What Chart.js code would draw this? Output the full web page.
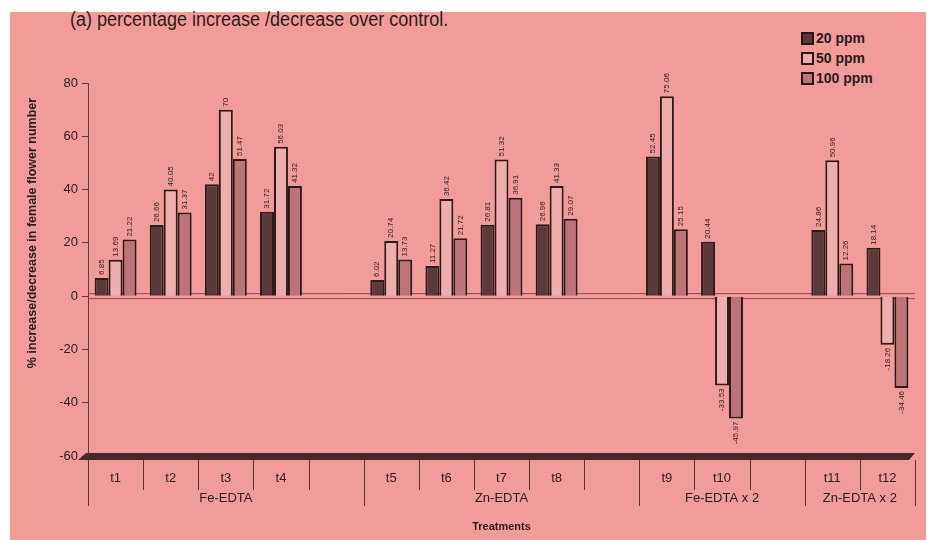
<!DOCTYPE html>
<html><head><meta charset="utf-8">
<script src="https://cdn.jsdelivr.net/npm/chart.js@4.4.0/dist/chart.umd.min.js"></script>
<style>
html,body{margin:0;padding:0;background:#fff;}
#bg{position:absolute;left:10px;top:12px;width:916px;height:528px;background:rgb(242,156,154);}
#wrap{position:absolute;left:0;top:0;width:930px;height:540px;}
#title{position:absolute;left:70px;top:8px;font:20px "Liberation Sans",Arial,sans-serif;color:#2a1c1c;white-space:nowrap;transform:scaleX(0.9);transform-origin:0 0;}
#legend{position:absolute;left:801px;top:28px;font:bold 14px "Liberation Sans",Arial,sans-serif;color:#2a1c1c;}
.li{height:20px;display:flex;align-items:center;}
.sw{width:9px;height:9px;border:2px solid #2a1818;margin-right:2px;}
</style></head><body>
<div id="bg"></div>
<div id="title">(a) percentage increase /decrease over control.</div>
<div id="legend"></div>
<div id="wrap"><canvas id="c" width="930" height="540"></canvas></div>
<script>
const categories = ['t1','t2','t3','t4','','t5','t6','t7','t8','','t9','t10','','t11','t12'];
const seriesNames = ['20 ppm','50 ppm','100 ppm'];
const ppm20  = [6.85, 26.66, 42, 31.72, null, 6.02, 11.27, 26.81, 26.96, null, 52.45, 20.44, null, 24.86, 18.14];
const ppm50  = [13.69, 40.05, 70, 56.03, null, 20.74, 36.42, 51.32, 41.33, null, 75.06, -33.53, null, 50.96, -18.26];
const ppm100 = [21.22, 31.37, 51.47, 41.32, null, 13.73, 21.72, 36.91, 29.07, null, 25.15, -45.97, null, 12.26, -34.46];
const groupLabels = ['Fe-EDTA','Zn-EDTA','Fe-EDTA x 2','Zn-EDTA x 2'];
const groupSpans = [5, 5, 3, 2];
const yTicks = [-60,-40,-20,0,20,40,60,80];
const yTitle = '% increase/decrease in female flower number';

const fills = ['rgb(92,58,60)','rgb(238,174,174)','rgb(188,116,118)'];
const edge = 'rgb(46,26,26)';
const ink = '#2a1c1c';
const FONT = '"Liberation Sans", Arial, sans-serif';

const decor = {
  id: 'decor',
  beforeDatasetsDraw(chart) {
    const {ctx, chartArea: a, scales: {x, y}} = chart;
    const y0 = y.getPixelForValue(0);
    ctx.save();
    ctx.strokeStyle = 'rgba(125,60,60,0.85)';
    ctx.lineWidth = 1;
    [y0 - 2.5, y0 + 2.5].forEach(yy => {
      ctx.beginPath(); ctx.moveTo(a.left, yy); ctx.lineTo(a.right, yy); ctx.stroke();
    });
    ctx.fillStyle = ink;
    ctx.font = 'bold 12.5px ' + FONT;
    ctx.textAlign = 'center'; ctx.textBaseline = 'middle';
    ctx.translate(33, 233);
    ctx.rotate(-Math.PI / 2);
    ctx.fillText(yTitle, 0, 0);
    ctx.restore();
  },
  afterDatasetsDraw(chart) {
    const {ctx, chartArea: a, scales: {x, y}} = chart;
    ctx.save();
    const yf = y.getPixelForValue(yTicks[0]);
    ctx.fillStyle = 'rgb(70,42,44)';
    ctx.beginPath();
    ctx.moveTo(a.left - 2, yf - 3);
    ctx.lineTo(a.right, yf - 3);
    ctx.lineTo(a.right - 6, yf + 4);
    ctx.lineTo(a.left - 10, yf + 4);
    ctx.closePath(); ctx.fill();
    const slot = x.getPixelForValue(1) - x.getPixelForValue(0);
    const bounds = [0]; groupSpans.reduce((s, n) => { bounds.push(s + n); return s + n; }, 0);
    ctx.strokeStyle = 'rgb(90,55,55)';
    ctx.lineWidth = 1;
    for (let i = 0; i <= categories.length; i++) {
      const px = Math.round(x.getPixelForValue(0) - slot / 2 + i * slot) + 0.5;
      const long = bounds.includes(i);
      ctx.beginPath(); ctx.moveTo(px, yf + 4); ctx.lineTo(px, yf + (long ? 50 : 34)); ctx.stroke();
    }
    ctx.fillStyle = ink;
    ctx.font = '13px ' + FONT;
    ctx.textAlign = 'center'; ctx.textBaseline = 'middle';
    groupLabels.forEach((g, k) => {
      const x1 = x.getPixelForValue(0) - slot / 2 + bounds[k] * slot;
      const x2 = x.getPixelForValue(0) - slot / 2 + bounds[k + 1] * slot;
      ctx.fillText(g, (x1 + x2) / 2, yf + 42);
    });
    ctx.font = '8px ' + FONT;
    ctx.textBaseline = 'middle';
    chart.data.datasets.forEach((ds, di) => {
      const meta = chart.getDatasetMeta(di);
      meta.data.forEach((el, i) => {
        const v = ds.data[i];
        if (v === null || v === undefined) return;
        ctx.save();
        ctx.translate(el.x, el.y + (v >= 0 ? -3 : 3));
        ctx.rotate(-Math.PI / 2);
        ctx.textAlign = v >= 0 ? 'left' : 'right';
        ctx.fillText(String(v), 0, 0);
        ctx.restore();
      });
    });
    ctx.restore();
  }
};

const chart = new Chart(document.getElementById('c'), {
  type: 'bar',
  data: {
    labels: categories,
    datasets: [ppm20, ppm50, ppm100].map((d, i) => ({
      label: seriesNames[i], data: d,
      backgroundColor: fills[i], borderColor: edge, borderWidth: 2,
      barPercentage: 1.0, categoryPercentage: 0.76
    }))
  },
  options: {
    responsive: false, animation: false, devicePixelRatio: 1,
    layout: {padding: {top: 83, right: 15, left: 0, bottom: 0}},
    plugins: {legend: {display: false}, title: {display: false}, tooltip: {enabled: false}},
    scales: {
      x: {
        type: 'category', offset: true,
        grid: {display: false}, border: {display: false},
        ticks: {color: ink, font: {size: 13, family: FONT}, padding: 7, maxRotation: 0, autoSkip: false},
        title: {display: true, text: 'Treatments', color: ink, font: {size: 11, weight: 'bold', family: FONT}, padding: {top: 0, bottom: 6}},
        afterFit(s) { s.height = 84; }
      },
      y: {
        min: -60, max: 80,
        afterBuildTicks(s) { s.ticks = yTicks.map(v => ({value: v})); },
        grid: {drawOnChartArea: false, drawTicks: true, tickLength: 6, color: 'rgb(100,60,60)'},
        border: {display: true, color: 'rgb(100,60,60)'},
        ticks: {color: ink, font: {size: 13, family: FONT}, padding: 4},
        afterFit(s) { s.width = 88; }
      }
    }
  },
  plugins: [decor]
});

const leg = document.getElementById('legend');
chart.data.datasets.forEach(ds => {
  const row = document.createElement('div'); row.className = 'li';
  const sw = document.createElement('span'); sw.className = 'sw'; sw.style.background = ds.backgroundColor;
  const t = document.createElement('span'); t.textContent = ds.label;
  row.appendChild(sw); row.appendChild(t); leg.appendChild(row);
});
</script>
</body></html>
